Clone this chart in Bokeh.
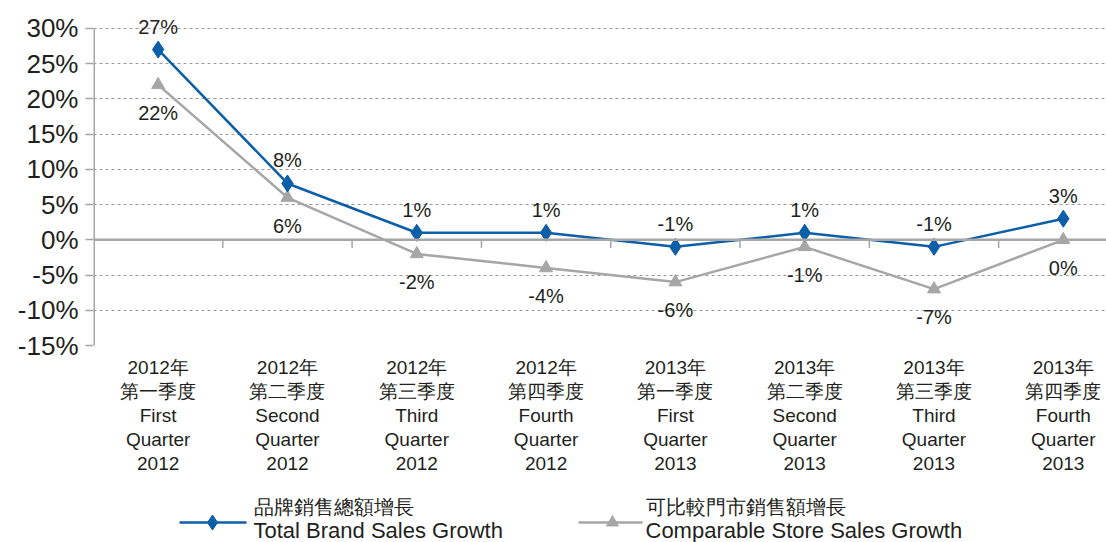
from bokeh.plotting import figure
from bokeh.models import FixedTicker, Span, ColumnDataSource, LabelSet
from bokeh.layouts import column
from bokeh.embed import file_html
from bokeh.resources import INLINE
from bokeh.core.properties import value

# ---- data ----
year_cn = ["2012年", "2012年", "2012年", "2012年", "2013年", "2013年", "2013年", "2013年"]
quarter_cn = ["第一季度", "第二季度", "第三季度", "第四季度", "第一季度", "第二季度", "第三季度", "第四季度"]
quarter_en = ["First", "Second", "Third", "Fourth", "First", "Second", "Third", "Fourth"]
year_en = ["2012", "2012", "2012", "2012", "2013", "2013", "2013", "2013"]
total_brand = [27, 8, 1, 1, -1, 1, -1, 3]
comparable = [22, 6, -2, -4, -6, -1, -7, 0]
y_ticks = [-15, -10, -5, 0, 5, 10, 15, 20, 25, 30]
series_cn = ["品牌銷售總額增長", "可比較門市銷售額增長"]
series_en = ["Total Brand Sales Growth", "Comparable Store Sales Growth"]

BLUE = "#0b5ea8"
GRAY = "#a6a6a6"
TXT = "#231f20"
FONT = "Liberation Sans"

xs = list(range(len(total_brand)))
cat_labels = {i: f"{year_cn[i]}\n{quarter_cn[i]}\n{quarter_en[i]}\nQuarter\n{year_en[i]}" for i in xs}

Y_TOP = 32.55  # headroom above 30% so the top value label is not clipped
p = figure(frame_width=1013, frame_height=335, x_range=(-0.5, 7.334), y_range=(-15, Y_TOP),
           toolbar_location=None, output_backend="svg",
           min_border_left=93, min_border_right=0, min_border_top=10, min_border_bottom=145)
p.outline_line_color = None
p.background_fill_color = "white"

# y axis (line drawn separately so it stops at the top tick)
p.yaxis.ticker = FixedTicker(ticks=y_ticks)
p.yaxis.major_label_overrides = {v: f"{v}%" for v in y_ticks}
p.yaxis.axis_line_color = None
p.yaxis.major_tick_line_color = GRAY
p.yaxis.major_tick_line_width = 1.5
p.yaxis.major_tick_out = 8
p.yaxis.major_tick_in = 0
p.yaxis.minor_tick_line_color = None
p.yaxis.major_label_text_font = FONT
p.yaxis.major_label_text_font_size = "26px"
p.yaxis.major_label_text_color = TXT
p.yaxis.major_label_standoff = 7
p.segment(x0=[-0.5], y0=[min(y_ticks)], x1=[-0.5], y1=[max(y_ticks)], line_color=GRAY, line_width=3)

# x axis (labels only)
p.xaxis.ticker = FixedTicker(ticks=xs)
p.xaxis.major_label_overrides = cat_labels
p.xaxis.axis_line_color = None
p.xaxis.major_tick_line_color = None
p.xaxis.minor_tick_line_color = None
p.xaxis.major_label_text_font = FONT
p.xaxis.major_label_text_font_size = "19px"
p.xaxis.major_label_text_color = TXT
p.xaxis.major_label_text_line_height = 1.15
p.xaxis.major_label_standoff = 5

# grid
p.xgrid.grid_line_color = None
p.ygrid.ticker = FixedTicker(ticks=y_ticks)
p.ygrid.grid_line_color = "#9a9a9a"
p.ygrid.grid_line_dash = "3 3"
p.ygrid.grid_line_width = 1

# zero line and category separators
p.add_layout(Span(location=0, dimension="width", line_color=GRAY, line_width=2.5))
sep = [i + 0.5 for i in xs]
p.segment(x0=sep, y0=[0] * len(sep), x1=sep, y1=[-1.15] * len(sep), line_color=GRAY, line_width=1.5)

# series
p.line(xs, comparable, line_color=GRAY, line_width=2.5)
p.scatter(xs, comparable, marker="triangle", size=13, fill_color=GRAY, line_color=GRAY)
p.line(xs, total_brand, line_color=BLUE, line_width=2.5)
p.scatter(xs, total_brand, marker="diamond", size=17, fill_color=BLUE, line_color=BLUE)

src_b = ColumnDataSource(dict(x=xs, y=total_brand, t=[f"{v}%" for v in total_brand]))
src_g = ColumnDataSource(dict(x=xs, y=comparable, t=[f"{v}%" for v in comparable]))
p.add_layout(LabelSet(x="x", y="y", text="t", source=src_b, y_offset=23, text_align="center",
                      text_baseline="middle", text_font=value(FONT), text_font_size="20px", text_color=TXT))
p.add_layout(LabelSet(x="x", y="y", text="t", source=src_g, y_offset=-28, text_align="center",
                      text_baseline="middle", text_font=value(FONT), text_font_size="20px", text_color=TXT))

# legend figure (its frame is aligned with the main frame by the column layout: 93..1106 px)
lg = figure(width=1106, height=52, x_range=(93, 1106), y_range=(0, 52), toolbar_location=None,
            output_backend="svg", min_border=0, x_axis_location=None, y_axis_location=None)
lg.grid.grid_line_color = None
lg.outline_line_color = None
lg.line([179, 246], [20, 20], line_color=BLUE, line_width=2.5)
lg.scatter([212], [20], marker="diamond", size=15, fill_color=BLUE, line_color=BLUE)
lg.line([578, 642], [20, 20], line_color=GRAY, line_width=2.5)
lg.scatter([612], [20], marker="triangle", size=12, fill_color=GRAY, line_color=GRAY)
lg.text(x=[253, 645], y=[36, 36], text=series_cn, text_font=value(FONT), text_font_size="20px",
        text_color=TXT, text_baseline="middle")
lg.text(x=[253, 645], y=[12, 12], text=series_en, text_font=value(FONT), text_font_size="22px",
        text_color=TXT, text_baseline="middle")

layout = column(p, lg, spacing=0)
open("out.html", "w").write(file_html(layout, INLINE))
